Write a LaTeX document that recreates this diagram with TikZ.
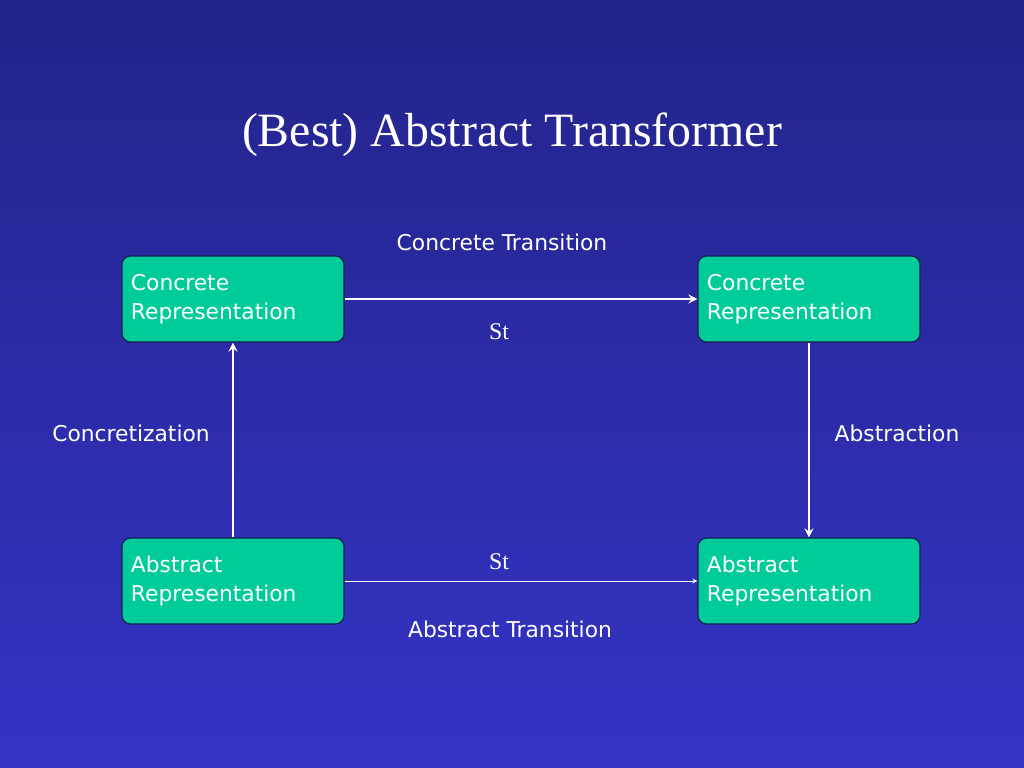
\documentclass[tikz,border=0pt]{standalone}
\usepackage{fontspec}
\setmainfont{Liberation Serif}
\newfontfamily\boxfont{DejaVu Sans}
\definecolor{bgtop}{RGB}{35,35,138}
\definecolor{bgbot}{RGB}{52,52,198}
\definecolor{boxgreen}{RGB}{0,204,153}
\definecolor{boxline}{RGB}{25,25,80}
\tikzset{
  repbox/.style={draw=boxline, line width=0.8pt, fill=boxgreen, rounded corners=6pt,
    minimum width=5.55cm, minimum height=2.15cm, align=left, text width=5.1cm,
    font=\boxfont\fontsize{15.5}{21}\selectfont, text=white},
  lbl/.style={text=white, font=\boxfont\fontsize{15.5}{19}\selectfont},
  st/.style={text=white, font=\fontsize{17}{20}\selectfont}
}
\begin{document}
\begin{tikzpicture}[x=0.025cm,y=-0.025cm]
 \shade[top color=bgtop, bottom color=bgbot] (0,0) rectangle (1024,768);
 \useasboundingbox (0,0) rectangle (1024,768);
 \node[text=white, font=\fontsize{34}{40}\selectfont] at (512,135) (title) {(Best) Abstract Transformer};
 \node[repbox] at (233,299) (cr1) {Concrete\\Representation};
 \node[repbox] at (809,299) (cr2) {Concrete\\Representation};
 \node[repbox] at (233,581) (ar1) {Abstract\\Representation};
 \node[repbox] at (809,581) (ar2) {Abstract\\Representation};
 \node[lbl] at (502,242) (ct) {Concrete Transition};
 \node[st] at (499,332) (st1) {St};
 \node[lbl] at (131,433) (conc) {Concretization};
 \node[lbl] at (897,433) (abst) {Abstraction};
 \node[st] at (499,562) (st2) {St};
 \node[lbl] at (510,629) (at) {Abstract Transition};

 \draw [white,line width=1.8pt,-stealth] (cr1.east)--(cr2.west);
 \draw [white,line width=0.6pt,-stealth] (ar1.east)--(ar2.west);
 \draw [white,line width=1.8pt,-stealth] (ar1.north)--(cr1.south);
 \draw [white,line width=1.8pt,-stealth] (cr2.south)--(ar2.north);
\end{tikzpicture}
\end{document}
